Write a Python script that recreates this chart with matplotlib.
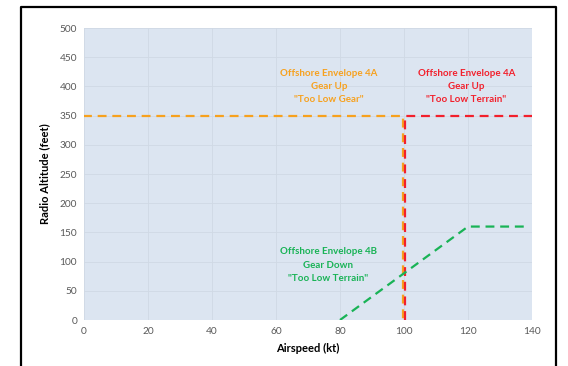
import matplotlib
matplotlib.use('Agg')
import matplotlib.pyplot as plt
from matplotlib.lines import Line2D

# envelope data
orange_x = [0, 100, 100]
orange_y = [350, 350, 0]
red_x = [100, 100, 140]
red_y = [0, 350, 350]
green_x = [80, 120, 139]
green_y = [0, 160, 160]

x_ticks = [0, 20, 40, 60, 80, 100, 120, 140]
y_ticks = [0, 50, 100, 150, 200, 250, 300, 350, 400, 450, 500]

label_orange = 'Offshore Envelope 4A\nGear Up\n"Too Low Gear"'
label_red = 'Offshore Envelope 4A\nGear Up\n"Too Low Terrain"'
label_green = 'Offshore Envelope 4B\nGear Down\n"Too Low Terrain"'

c_orange = '#F7A11E'
c_red = '#F2202C'
c_green = '#19B356'

fig = plt.figure(figsize=(5.68, 3.66), dpi=100)
ax = fig.add_axes([84 / 568, 1 - 320 / 366, (532 - 84) / 568, (320 - 28) / 366])
ax.set_facecolor('#DCE5F1')

dash = (0, (4, 2.6))
ax.plot([v - 0.4 for v in orange_x], orange_y, color=c_orange, lw=1.6, linestyle=dash, zorder=3)
ax.plot([v + 0.4 if v == 100 else v for v in red_x], red_y, color=c_red, lw=1.6, linestyle=dash, zorder=3)
ax.plot(green_x, green_y, color=c_green, lw=1.6, linestyle=dash, zorder=3)

ax.set_xlim(0, 140)
ax.set_ylim(0, 500)
ax.set_xticks(x_ticks)
ax.set_yticks(y_ticks)
ax.grid(True, color='#D0D9E4', lw=0.6)
ax.set_axisbelow(True)
for s in ax.spines.values():
    s.set_visible(False)
ax.tick_params(length=0, labelsize=7.3, labelcolor='#595959', pad=5)
for lab in ax.get_xticklabels() + ax.get_yticklabels():
    lab.set_family('Lato')

ax.set_xlabel('Airspeed (kt)', fontsize=8, fontweight='bold', family='Lato', labelpad=5)
ax.set_ylabel('Radio Altitude (feet)', fontsize=8, fontweight='bold', family='Lato', labelpad=7)

txt = dict(ha='center', va='center', fontsize=7, fontweight='bold', family='Lato', linespacing=1.6)
ax.text(76.5, 400, label_orange, color=c_orange, **txt)
ax.text(119.5, 400, label_red, color=c_red, **txt)
ax.text(76.3, 94, label_green, color=c_green, **txt)

# black frame around the chart (open at the bottom)
W, H = 568, 366
fx = [21 / W, 21 / W, 556 / W, 556 / W]
fy = [0, 1 - 7 / H, 1 - 7 / H, 0]
fig.add_artist(Line2D(fx, fy, color='black', lw=1.6, transform=fig.transFigure))

fig.savefig('out.png', dpi=100)
